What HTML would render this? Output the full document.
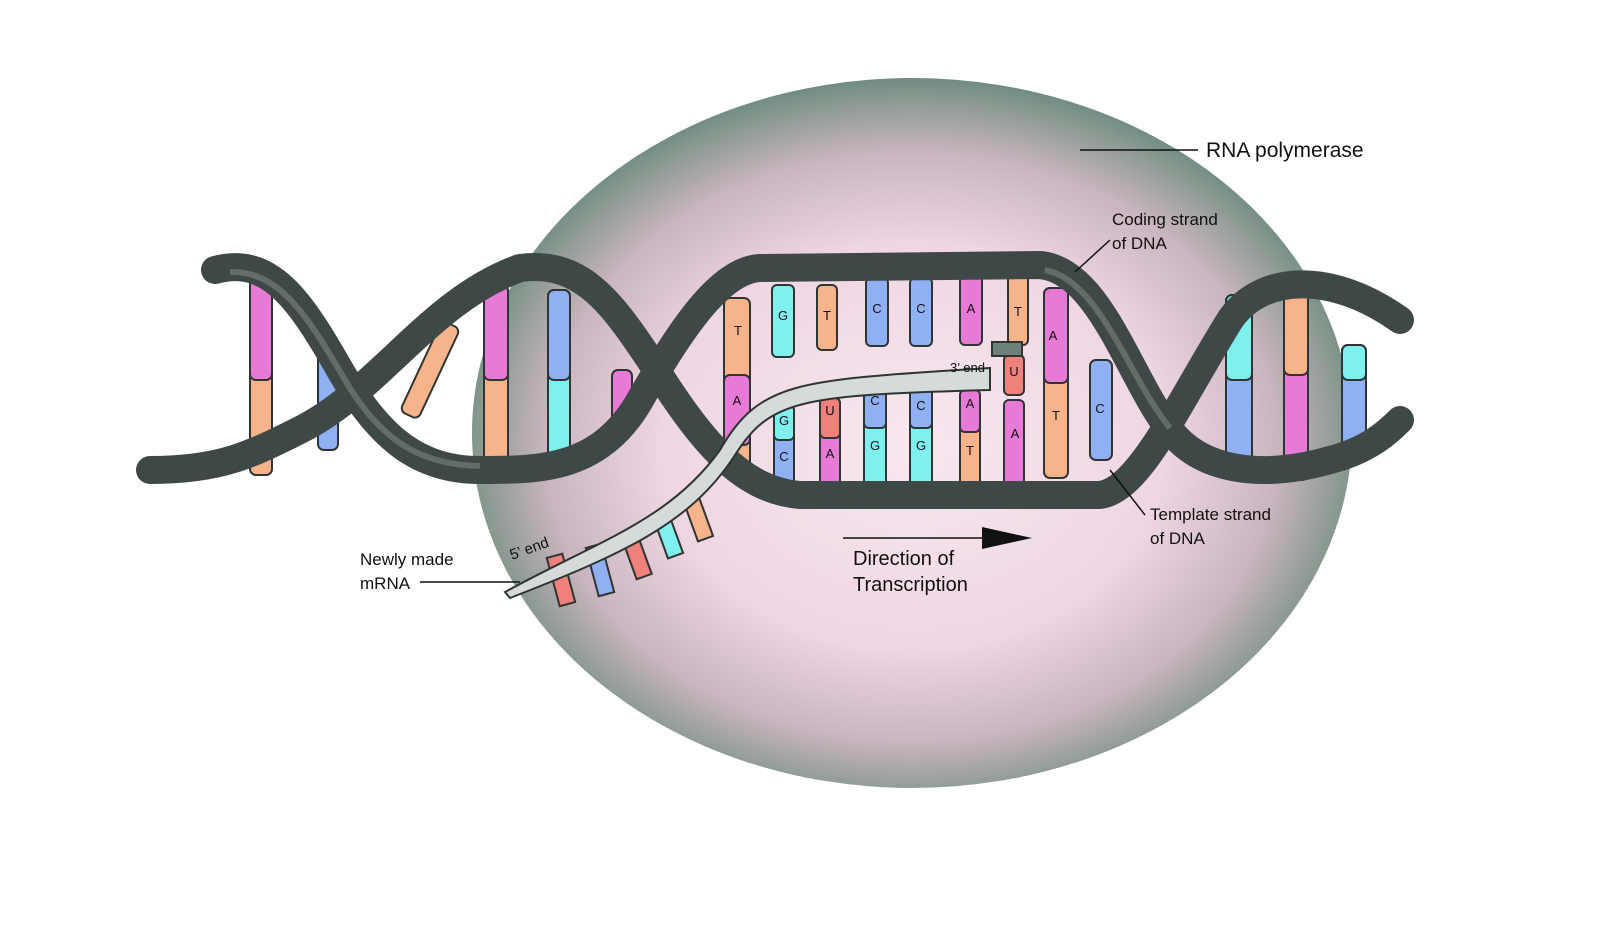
<!DOCTYPE html>
<html><head><meta charset="utf-8"><style>
body{margin:0;background:#fff}
svg{display:block}
text{font-family:"Liberation Sans",sans-serif;fill:#111}
</style></head><body>
<svg width="1600" height="944" viewBox="0 0 1600 944">
<defs>
<radialGradient id="g" cx="50%" cy="52%" r="52%">
<stop offset="0" stop-color="#f8e8f0"/>
<stop offset="0.55" stop-color="#efd6e2"/>
<stop offset="0.8" stop-color="#c9b5bf"/>
<stop offset="0.95" stop-color="#87988f"/>
<stop offset="1" stop-color="#6f8c82"/>
</radialGradient>
</defs>
<ellipse cx="912" cy="433" rx="440" ry="355" fill="url(#g)"/>
<g stroke="#2f3533" stroke-width="2">
<rect x="250" y="275" width="22" height="200" rx="6" fill="#f7b48a"/>
<rect x="250" y="275" width="22" height="105" rx="6" fill="#e77ad6"/>
<rect x="318" y="350" width="20" height="100" rx="6" fill="#8fb0f2"/>
<rect x="420" y="320" width="20" height="100" rx="6" fill="#f7b48a" transform="rotate(25 430 370)"/>
<rect x="484" y="285" width="24" height="185" rx="6" fill="#f7b48a"/>
<rect x="484" y="285" width="24" height="95" rx="6" fill="#e77ad6"/>
<rect x="548" y="290" width="22" height="185" rx="6" fill="#7ff0f0"/>
<rect x="548" y="290" width="22" height="90" rx="6" fill="#8fb0f2"/>
<rect x="612" y="370" width="20" height="60" rx="6" fill="#e77ad6"/>
<rect x="724" y="298" width="26" height="180" rx="6" fill="#f7b48a"/>
<rect x="724" y="375" width="26" height="70" rx="6" fill="#e77ad6"/>
<rect x="772" y="285" width="22" height="72" rx="5" fill="#7ff0f0"/>
<rect x="817" y="285" width="20" height="65" rx="5" fill="#f7b48a"/>
<rect x="866" y="278" width="22" height="68" rx="5" fill="#8fb0f2"/>
<rect x="910" y="278" width="22" height="68" rx="5" fill="#8fb0f2"/>
<rect x="960" y="275" width="22" height="70" rx="5" fill="#e77ad6"/>
<rect x="1008" y="275" width="20" height="70" rx="5" fill="#f7b48a"/>
<rect x="774" y="405" width="20" height="80" rx="5" fill="#8fb0f2"/>
<rect x="774" y="405" width="20" height="35" rx="5" fill="#7ff0f0"/>
<rect x="820" y="398" width="20" height="90" rx="5" fill="#e77ad6"/>
<rect x="820" y="398" width="20" height="40" rx="5" fill="#f0807a"/>
<rect x="864" y="388" width="22" height="100" rx="5" fill="#7ff0f0"/>
<rect x="864" y="388" width="22" height="40" rx="5" fill="#8fb0f2"/>
<rect x="910" y="388" width="22" height="100" rx="5" fill="#7ff0f0"/>
<rect x="910" y="388" width="22" height="40" rx="5" fill="#8fb0f2"/>
<rect x="960" y="390" width="20" height="98" rx="5" fill="#f7b48a"/>
<rect x="960" y="390" width="20" height="42" rx="5" fill="#e77ad6"/>
<rect x="1004" y="355" width="20" height="40" rx="5" fill="#f0807a"/>
<rect x="1004" y="400" width="20" height="85" rx="5" fill="#e77ad6"/>
<rect x="992" y="342" width="30" height="14" fill="#6d807a"/>
<rect x="1044" y="288" width="24" height="190" rx="6" fill="#f7b48a"/>
<rect x="1044" y="288" width="24" height="95" rx="6" fill="#e77ad6"/>
<rect x="1090" y="360" width="22" height="100" rx="6" fill="#8fb0f2"/>
<rect x="1226" y="295" width="26" height="180" rx="6" fill="#8fb0f2"/>
<rect x="1226" y="295" width="26" height="85" rx="6" fill="#7ff0f0"/>
<rect x="1284" y="280" width="24" height="200" rx="6" fill="#e77ad6"/>
<rect x="1284" y="280" width="24" height="95" rx="6" fill="#f7b48a"/>
<rect x="1342" y="345" width="24" height="115" rx="6" fill="#8fb0f2"/>
<rect x="1342" y="345" width="24" height="35" rx="6" fill="#7ff0f0"/>
<rect x="553" y="555" width="16" height="50" fill="#f0807a" transform="rotate(-15 561 580)"/>
<rect x="592" y="545" width="16" height="50" fill="#8fb0f2" transform="rotate(-15 600 570)"/>
<rect x="628" y="530" width="16" height="48" fill="#f0807a" transform="rotate(-20 636 554)"/>
<rect x="660" y="512" width="16" height="45" fill="#7ff0f0" transform="rotate(-20 668 535)"/>
<rect x="690" y="495" width="16" height="45" fill="#f7b48a" transform="rotate(-20 698 518)"/>
</g>
<g fill="none" stroke="#3e4846" stroke-linecap="round">
<path d="M150,470 C220,470 250,455 300,430 C380,390 430,300 520,268 C580,260 610,300 650,360 C700,440 740,490 800,495 L1100,495 C1140,490 1180,400 1230,320 C1260,275 1330,270 1400,320" stroke-width="28"/>
<path d="M215,270 C270,255 300,300 340,370 C380,440 420,470 480,470 C540,470 600,470 640,400 C680,330 720,270 760,268 L1040,265 C1100,270 1130,380 1170,430 C1200,470 1260,480 1330,460 C1370,450 1390,430 1400,420" stroke-width="28"/>
</g>
<g fill="none" stroke="#7a8683" stroke-width="6" opacity="0.6">
<path d="M230,272 C280,270 310,320 345,380 C380,440 420,465 480,466"/>
<path d="M1045,270 C1100,280 1130,380 1170,428"/>
</g>
<path d="M505,592 C600,540 670,520 720,450 C760,380 800,380 990,368 L990,390 C800,395 770,400 735,455 C690,525 620,555 510,598 Z" fill="#d5dbd9" stroke="#2f3533" stroke-width="2"/>
<g font-size="13" text-anchor="middle">
<text x="738" y="335">T</text><text x="737" y="405">A</text>
<text x="783" y="320">G</text><text x="827" y="320">T</text>
<text x="877" y="313">C</text><text x="921" y="313">C</text>
<text x="971" y="313">A</text><text x="1018" y="316">T</text>
<text x="784" y="425">G</text><text x="784" y="461">C</text>
<text x="830" y="415">U</text><text x="830" y="458">A</text>
<text x="875" y="405">C</text><text x="875" y="450">G</text>
<text x="921" y="410">C</text><text x="921" y="450">G</text>
<text x="970" y="408">A</text><text x="970" y="455">T</text>
<text x="1014" y="376">U</text><text x="1015" y="438">A</text>
<text x="1053" y="340">A</text><text x="1056" y="420">T</text>
<text x="1100" y="413">C</text>
</g>
<text x="950" y="372" font-size="13">3’ end</text>
<text x="512" y="560" font-size="15" transform="rotate(-20 512 560)">5’ end</text>
<g stroke="#111" stroke-width="1.5">
<line x1="1080" y1="150" x2="1198" y2="150"/>
<line x1="1075" y1="272" x2="1110" y2="240"/>
<line x1="1110" y1="470" x2="1145" y2="515"/>
<line x1="420" y1="582" x2="520" y2="582"/>
<line x1="843" y1="538" x2="985" y2="538"/>
</g>
<polygon points="982,527 1032,538 982,549" fill="#111"/>
<text x="1206" y="157" font-size="21">RNA polymerase</text>
<text x="1112" y="225" font-size="17">Coding strand</text>
<text x="1112" y="249" font-size="17">of DNA</text>
<text x="1150" y="520" font-size="17">Template strand</text>
<text x="1150" y="544" font-size="17">of DNA</text>
<text x="360" y="565" font-size="17">Newly made</text>
<text x="360" y="589" font-size="17">mRNA</text>
<text x="853" y="565" font-size="20">Direction of</text>
<text x="853" y="591" font-size="20">Transcription</text>
</svg>
</body></html>
